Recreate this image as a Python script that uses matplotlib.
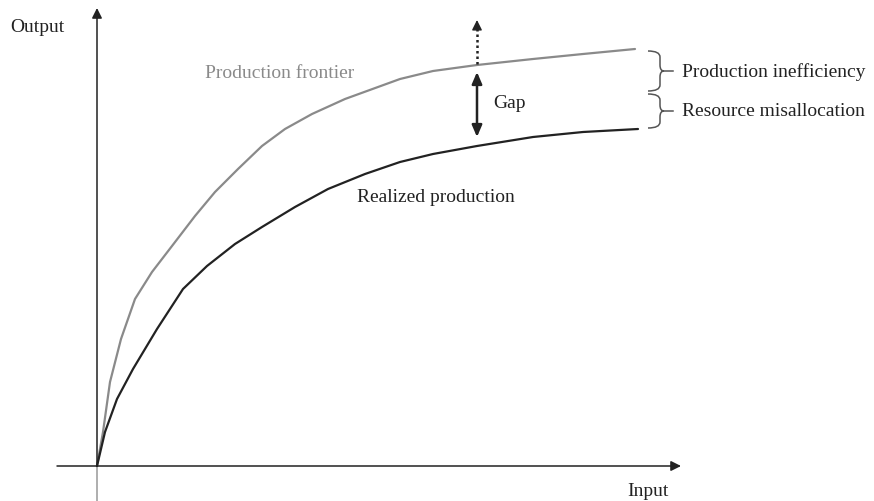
import matplotlib.pyplot as plt
from matplotlib.path import Path
from matplotlib.patches import PathPatch

plt.rcParams['font.family'] = ['Liberation Serif', 'DejaVu Serif']

# curves (input, output)
frontier_x = [0, 6, 13, 24, 38, 55, 75, 98, 118, 141, 165, 188, 215, 248, 281, 303, 336, 380, 436, 486, 538]
frontier_y = [0, 34, 84, 127, 167, 194, 220, 250, 274, 297, 320, 337, 352, 367, 379, 387, 395, 401, 407, 412, 417]
realized_x = [0, 8, 20, 36, 60, 86, 110, 138, 165, 198, 231, 268, 303, 336, 380, 436, 486, 541]
realized_y = [0, 34, 67, 97, 137, 177, 200, 222, 239, 259, 277, 292, 304, 312, 320, 329, 334, 337]

gap_x = 380
gap_lo, gap_hi = 329, 394
dotted_top = 446

braces = [(415, 375, 'Production inefficiency'), (372, 338, 'Resource misallocation')]

dark = '#222222'
grey = '#8a8a8a'

fig = plt.figure(figsize=(8.74, 5.02), dpi=100)
ax = fig.add_axes([0, 0, 1, 1])
ax.set_xlim(-97, 777)
ax.set_ylim(-35, 467)
ax.axis('off')

# axes with arrows
ax.plot([0, 0], [-35, 0], color='#999999', lw=1.1)
ax.annotate('', xy=(0, 458), xytext=(0, 0),
            arrowprops=dict(arrowstyle='-|>,head_length=0.6,head_width=0.3', color=dark, lw=1.1,
                            mutation_scale=10, shrinkA=0, shrinkB=0))
ax.annotate('', xy=(584, 0), xytext=(-40, 0),
            arrowprops=dict(arrowstyle='-|>,head_length=0.6,head_width=0.3', color=dark, lw=1.1,
                            mutation_scale=10, shrinkA=0, shrinkB=0))

# curves
ax.plot(frontier_x, frontier_y, color=grey, lw=1.6, solid_capstyle='round', solid_joinstyle='round')
ax.plot(realized_x, realized_y, color=dark, lw=1.6, solid_capstyle='round', solid_joinstyle='round')

# gap arrow and dotted arrow
ax.annotate('', xy=(gap_x, gap_lo), xytext=(gap_x, gap_hi),
            arrowprops=dict(arrowstyle='<|-|>,head_length=0.7,head_width=0.3', color=dark, lw=1.8,
                            mutation_scale=10, shrinkA=0, shrinkB=0))
ax.plot([gap_x, gap_x], [402, dotted_top - 8], color=dark, lw=1.8, linestyle=(0, (1, 1.2)))
ax.annotate('', xy=(gap_x, dotted_top), xytext=(gap_x, dotted_top - 7),
            arrowprops=dict(arrowstyle='-|>,head_length=0.6,head_width=0.3', color=dark, lw=1,
                            mutation_scale=10, shrinkA=0, shrinkB=0))

# braces
def brace(x0, yhi, ylo, w=12, tip=4, r=6, tick=9):
    ym = (yhi + ylo) / 2
    xv = x0 + w
    verts = [(x0, yhi), (xv, yhi), (xv, yhi - r),
             (xv, ym + r), (xv, ym), (xv + tip, ym),
             (xv, ym), (xv, ym - r),
             (xv, ylo + r), (xv, ylo), (x0, ylo)]
    codes = [Path.MOVETO, Path.CURVE3, Path.CURVE3,
             Path.LINETO, Path.CURVE3, Path.CURVE3,
             Path.CURVE3, Path.CURVE3,
             Path.LINETO, Path.CURVE3, Path.CURVE3]
    ax.add_patch(PathPatch(Path(verts, codes), fill=False, edgecolor='#555555', lw=1.1))
    ax.plot([xv + tip, xv + tip + tick], [ym, ym], color='#555555', lw=1.1)
    return xv + tip + tick

for yhi, ylo, label in braces:
    xe = brace(551, yhi, ylo)
    ax.text(xe + 9, (yhi + ylo) / 2, label, fontsize=14, color=dark, va='center', ha='left')

ax.text(108, 394, 'Production frontier', fontsize=14, color=grey, va='center')
ax.text(260, 270, 'Realized production', fontsize=14, color=dark, va='center')
ax.text(396, 364, 'Gap', fontsize=14, color=dark, va='center')
ax.text(-87, 439, 'Output', fontsize=14, color=dark, va='center')
ax.text(530, -25, 'Input', fontsize=14, color=dark, va='center')

fig.savefig('out.png', dpi=100, facecolor='w')
